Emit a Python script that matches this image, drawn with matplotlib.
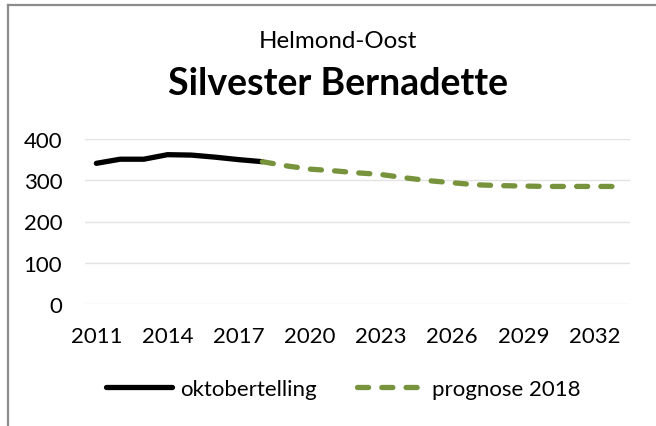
import matplotlib.pyplot as plt
from matplotlib.lines import Line2D

# data
years_count = [2011, 2012, 2013, 2014, 2015, 2016, 2017, 2018]
count = [341, 351, 351, 362, 361, 356, 350, 345]

years_prog = list(range(2018, 2034))
prognosis = [345, 335, 327, 323, 318, 314, 306, 299, 294, 289, 287, 286, 285, 285, 285, 285]

x_ticks = [2011, 2014, 2017, 2020, 2023, 2026, 2029, 2032]
y_ticks = [0, 100, 200, 300, 400]

subtitle = "Helmond-Oost"
title = "Silvester Bernadette"
labels = ["oktobertelling", "prognose 2018"]

green = "#77933C"
fontsize = 16
plt.rcParams.update({"font.family": ["Lato", "DejaVu Sans"], "font.size": fontsize})

fig = plt.figure(figsize=(6.56, 4.27), dpi=100)
ax = fig.add_axes([84.5 / 656, 1 - 305 / 427, 545.5 / 656, 165 / 427])

ax.plot(years_count, count, color="black", lw=3.8, solid_capstyle="round",
        solid_joinstyle="round", label=labels[0], zorder=3)
ax.plot(years_prog, prognosis, color=green, lw=3.8, linestyle=(0, (2.1, 2.5)),
        dash_capstyle="round", label=labels[1], zorder=3)

ax.set_xlim(2010.5, 2033.5)
ax.set_ylim(0, 400)
ax.set_xticks(x_ticks)
ax.set_yticks(y_ticks)
ax.grid(axis="y", color="#e3e3e3", lw=1, zorder=1)
for spine in ax.spines.values():
    spine.set_visible(False)
ax.tick_params(axis="both", length=0)
ax.tick_params(axis="y", pad=16)
ax.tick_params(axis="x", pad=16)

fig.text(338 / 656, 1 - 42 / 427, subtitle, ha="center", va="center", fontsize=17.4)
fig.text(338 / 656, 1 - 84 / 427, title, ha="center", va="center", fontsize=27,
         fontweight="bold")

fig.legend(loc="center", bbox_to_anchor=(343 / 656, 1 - 390 / 427), ncol=2,
           frameon=False, handlelength=3.0, handletextpad=0.36, columnspacing=1.8)

# chart border (only top and left are visible in the crop)
border = "#8c8c8c"
fig.add_artist(Line2D([7.5 / 656, 7.5 / 656], [0, 1 - 5.5 / 427], color=border, lw=1.6,
                      transform=fig.transFigure))
fig.add_artist(Line2D([7.5 / 656, 1], [1 - 5.5 / 427, 1 - 5.5 / 427], color=border, lw=1.6,
                      transform=fig.transFigure))

fig.savefig("out.png", dpi=100)
